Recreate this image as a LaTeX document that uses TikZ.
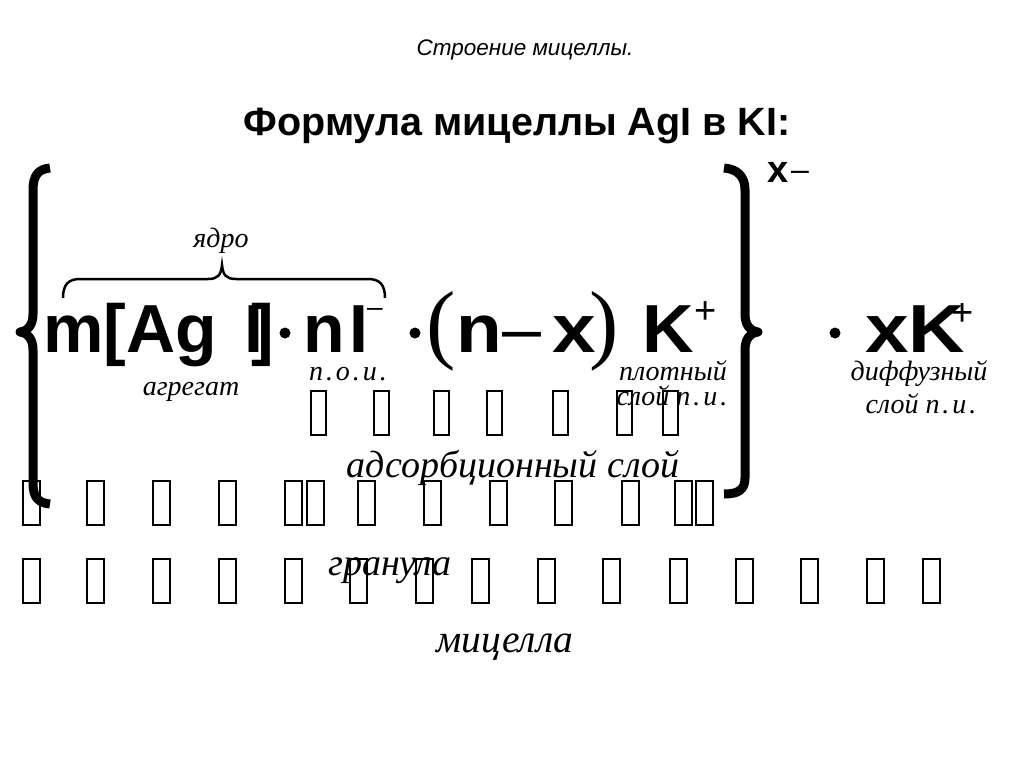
\documentclass[tikz,border=0pt]{standalone}
\usepackage{fontspec}
\setmainfont{Liberation Serif}
\setsansfont{Liberation Sans}
\usepackage{tikz}
\newcommand\fsz[1]{\fontsize{#1}{#1}\selectfont}
\newcommand\lsp{\kern3pt} % spacing inside the abbreviations
\tikzset{
x=1pt, y=-1pt, % one unit is one pixel of the slide, y runs downwards
formula/.style={font=\sffamily\bfseries\fsz{68}, inner sep=0pt, anchor=base west}, % the big bold formula
charge/.style={font=\sffamily\fsz{38}, inner sep=0pt, anchor=base west}, % thin + and - signs
paren/.style={font=\fsz{88}, inner sep=0pt, anchor=base west}, % light round brackets
note/.style={font=\itshape\fsz{28}, inner sep=0pt, anchor=base}, % italic captions under the formula
bignote/.style={font=\itshape\fsz{38}, inner sep=0pt, anchor=base}, % captions of the big parts
bigbrace/.style={line width=9pt, line join=round}, % the curly brackets round the granule
overbrace/.style={line width=2.5pt}, % the brace over the core
glyphbox/.style={draw, line width=1.8pt}, % empty character boxes
cdot/.style={circle, fill, inner sep=0pt, minimum size=11pt}, % multiplication dots
}

\begin{document}
\begin{tikzpicture}
\useasboundingbox (0,0) rectangle (1024,768);

% headings
\node[inner sep=0pt, anchor=base, font=\sffamily\itshape\fsz{22.5}] (sub) at (525,56) {Строение мицеллы.};
\node[inner sep=0pt, anchor=base, font=\sffamily\bfseries\fsz{39.5}] (head) at (517,135) {Формула мицеллы AgI в KI:};

% granule
\node[formula] (agg) at (43,352) {m[Ag};
\node[formula] (iod) at (244,352) {I};
\node[formula] (rbr) at (251,352) {]};
\node[cdot] (dota) at (285,333) {};
\node[formula] (pot) at (303,352) {n\kern5pt I};
\node[charge, font=\sffamily\fsz{28}] (pmin) at (367,316) {–};
\node[cdot] (dotb) at (415,333) {};
\node[paren] (lpar) at (426,352) {(};
\node[formula] (nn) at (456,352) {\scalebox{1.1}[1]{n}};
\node[charge, font=\sffamily\fsz{70}] (minus) at (502,352) {–};
\node[formula] (xx) at (552,352) {\scalebox{1.15}[1]{x}};
\node[paren] (rpar) at (589,352) {)};
\node[formula] (kk) at (642,352) {\scalebox{1.05}[1]{K}};
\node[charge] (kplus) at (694,323) {+};

% charge of the granule
\node[formula, font=\sffamily\bfseries\fsz{38}] (xg) at (767,182) {x};
\node[charge, font=\sffamily\fsz{32}] (xmin) at (791,180) {–};

% diffuse layer
\node[cdot] (dotc) at (835,333) {};
\node[formula] (xk) at (865,352) {\scalebox{1.15}[1]{xK}};
\node[charge] (xkplus) at (951,325) {+};

% braces
\draw[bigbrace] (50,168) .. controls (38,169) and (33,176) .. (33,190) -- (33,314)
  .. controls (33,325) and (28,331) .. (20,332) .. controls (28,333) and (33,339) .. (33,350)
  -- (33,483) .. controls (33,497) and (38,503) .. (50,504);
\draw[bigbrace] (724,168) .. controls (737,169) and (745,176) .. (745,190) -- (745,314)
  .. controls (745,325) and (750,331) .. (758,332) .. controls (750,333) and (745,339) .. (745,350)
  -- (745,478) .. controls (745,490) and (738,494) .. (724,494);
\draw[overbrace] (63,298) .. controls (63,285) and (68,279) .. (80,279) -- (208,279)
  .. controls (218,279) and (221,275) .. (222,265) .. controls (223,275) and (226,279) .. (236,279)
  -- (368,279) .. controls (380,279) and (385,285) .. (385,298);

% captions
\node[note] (core) at (221,247) {ядро};
\node[note] (aggr) at (191,395) {агрегат};
\node[note] (poi) at (348,380) {п\lsp.\lsp о\lsp.\lsp и\lsp.};
\node[note] (dense) at (673,380) {плотный};
\node[note] (densel) at (672,405) {слой п\lsp.\lsp и\lsp.};
\node[note] (diff) at (919,380) {диффузный};
\node[note] (diffl) at (921,413) {слой п\lsp.\lsp и\lsp.};
\node[bignote] (ads) at (513,477) {адсорбционный слой};
\node[bignote] (gran) at (390,575) {гранула};
\node[bignote, font=\itshape\fsz{39.5}] (mic) at (505,652) {мицелла};

% empty character boxes
\foreach \bx in {311,374,434,487,553,617,663}
  \draw[glyphbox] (\bx,391) rectangle ++(15,44);
\foreach \bx in {23,87,153,219,285,307,358,424,490,555,622,675,696}
  \draw[glyphbox] (\bx,481) rectangle ++(17,44);
\foreach \bx in {23,87,153,219,285,350,416,472,538,603,670,736,801,867,923}
  \draw[glyphbox] (\bx,559) rectangle ++(17,44);
\end{tikzpicture}
\end{document}
